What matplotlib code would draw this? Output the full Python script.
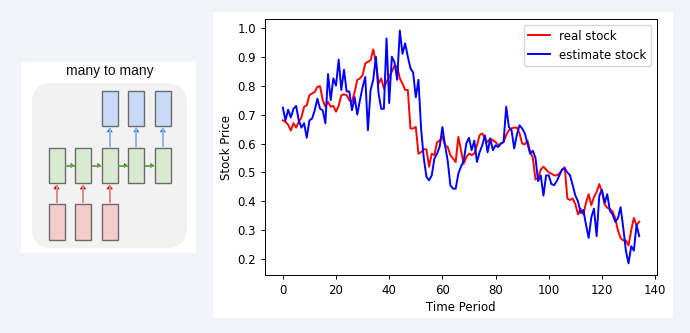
import numpy as np
import matplotlib
matplotlib.use("Agg")
import matplotlib.pyplot as plt
from matplotlib.patches import FancyBboxPatch, Rectangle, Polygon

# ---- series -------------------------------------------------------------
real_stock = [
    0.680, 0.675, 0.665, 0.645, 0.670, 0.655, 0.675, 0.690, 0.727, 0.732,
    0.767, 0.773, 0.778, 0.796, 0.798, 0.750, 0.727, 0.744, 0.727, 0.730,
    0.710, 0.730, 0.767, 0.770, 0.767, 0.750, 0.744, 0.778, 0.820, 0.825,
    0.836, 0.877, 0.882, 0.888, 0.925, 0.882, 0.807, 0.825, 0.790, 0.813,
    0.830, 0.848, 0.870, 0.865, 0.825, 0.807, 0.785, 0.785, 0.652, 0.652,
    0.657, 0.565, 0.570, 0.580, 0.580, 0.520, 0.565, 0.560, 0.605, 0.610,
    0.623, 0.594, 0.588, 0.560, 0.548, 0.536, 0.623, 0.577, 0.530, 0.553,
    0.565, 0.560, 0.565, 0.594, 0.629, 0.635, 0.617, 0.605, 0.617, 0.611,
    0.605, 0.594, 0.600, 0.605, 0.629, 0.646, 0.652, 0.655, 0.655, 0.635,
    0.600, 0.597, 0.610, 0.571, 0.550, 0.476, 0.482, 0.510, 0.520, 0.510,
    0.500, 0.496, 0.490, 0.490, 0.496, 0.510, 0.518, 0.410, 0.405, 0.410,
    0.390, 0.355, 0.375, 0.355, 0.395, 0.425, 0.387, 0.415, 0.433, 0.460,
    0.433, 0.390, 0.378, 0.374, 0.365, 0.342, 0.300, 0.274, 0.265, 0.265,
    0.248, 0.300, 0.343, 0.317, 0.330,
]

estimate_stock = [
    0.724, 0.680, 0.717, 0.690, 0.720, 0.730, 0.680, 0.655, 0.670, 0.620,
    0.680, 0.686, 0.715, 0.755, 0.720, 0.715, 0.670, 0.840, 0.750, 0.825,
    0.800, 0.890, 0.785, 0.855, 0.780, 0.780, 0.715, 0.760, 0.700, 0.750,
    0.795, 0.830, 0.646, 0.785, 0.820, 0.900, 0.773, 0.720, 0.720, 0.963,
    0.740, 0.900, 0.880, 0.820, 0.990, 0.910, 0.946, 0.900, 0.860, 0.845,
    0.760, 0.820, 0.650, 0.550, 0.485, 0.473, 0.490, 0.548, 0.565, 0.590,
    0.657, 0.594, 0.540, 0.456, 0.444, 0.444, 0.496, 0.520, 0.540, 0.600,
    0.620, 0.577, 0.610, 0.536, 0.570, 0.594, 0.628, 0.570, 0.617, 0.577,
    0.594, 0.588, 0.600, 0.605, 0.727, 0.657, 0.646, 0.583, 0.630, 0.663,
    0.652, 0.635, 0.600, 0.565, 0.575, 0.550, 0.470, 0.490, 0.420, 0.490,
    0.490, 0.460, 0.456, 0.470, 0.490, 0.510, 0.514, 0.500, 0.490, 0.456,
    0.420, 0.400, 0.360, 0.370, 0.320, 0.274, 0.345, 0.375, 0.280, 0.420,
    0.440, 0.395, 0.425, 0.367, 0.355, 0.330, 0.342, 0.380, 0.310, 0.230,
    0.186, 0.245, 0.230, 0.320, 0.280,
]

series_labels = ["real stock", "estimate stock"]
x_label = "Time Period"
y_label = "Stock Price"
diagram_title = "many to many"

# ---- figure -------------------------------------------------------------
W, H = 690, 333
fig = plt.figure(figsize=(W / 100, H / 100), dpi=100)
fig.patch.set_facecolor("#f1f3f8")

# pixel-space canvas for the panels and the RNN sketch
bg = fig.add_axes([0, 0, 1, 1], zorder=0)
bg.set_xlim(0, W)
bg.set_ylim(H, 0)
bg.axis("off")
bg.patch.set_alpha(0)

# white cards
bg.add_patch(Rectangle((21, 62), 175, 191, facecolor="white", edgecolor="none"))
bg.add_patch(Rectangle((213, 12), 460, 306, facecolor="white", edgecolor="none"))

# RNN "many to many" sketch
bg.text(110, 71, diagram_title, ha="center", va="center",
        fontsize=10, family="Liberation Sans", color="#111111")
bg.add_patch(FancyBboxPatch((32, 83), 155, 165,
                            boxstyle="round,pad=0,rounding_size=20",
                            facecolor="#f2f2f2", edgecolor="none"))

col_x = [48.5, 75.0, 101.7, 128.3, 154.8]
box_w = 16.0
edge = "#6b6b6b"


def cell(x, y, h, fc):
    bg.add_patch(Rectangle((x, y), box_w, h, facecolor=fc,
                           edgecolor=edge, linewidth=1.0))


def arrow(x0, y0, x1, y1, shaft, head, size=3.2):
    bg.plot([x0, x1], [y0, y1], color=shaft, lw=1.4, solid_capstyle="butt")
    dx, dy = x1 - x0, y1 - y0
    n = np.hypot(dx, dy)
    ux, uy = dx / n, dy / n
    px, py = -uy, ux
    tip = (x1, y1)
    base = (x1 - ux * size * 1.5, y1 - uy * size * 1.5)
    bg.add_patch(Polygon([tip,
                          (base[0] + px * size, base[1] + py * size),
                          (base[0] - px * size, base[1] - py * size)],
                         closed=True, facecolor=head, edgecolor="none"))


# inputs (first three columns)
for cx in col_x[:3]:
    cell(cx, 204, 36, "#f4cccc")
    arrow(cx + box_w / 2, 203, cx + box_w / 2, 184.5, "#e08a8a", "#cc0000")

# hidden states
for cx in col_x:
    cell(cx, 147.5, 35, "#d9ead3")
for a, b in zip(col_x[:-1], col_x[1:]):
    arrow(a + box_w + 0.5, 165.5, b - 0.5, 165.5, "#6aa84f", "#38761d", size=2.6)

# outputs (last three columns)
for cx in col_x[2:]:
    cell(cx, 91, 35, "#c9daf8")
    arrow(cx + box_w / 2, 146.5, cx + box_w / 2, 127.5, "#8fb3ec", "#3c78d8")

# ---- stock chart --------------------------------------------------------
ax = fig.add_axes([265 / W, 1 - 275 / H, 392 / W, 256 / H], zorder=1)
t = np.arange(len(real_stock))
ax.plot(t, real_stock, color="red", lw=1.4, label=series_labels[0])
ax.plot(t, estimate_stock, color="blue", lw=1.4, label=series_labels[1])

fs = 8.5
ax.set_xlabel(x_label, fontsize=fs, labelpad=3)
ax.set_ylabel(y_label, fontsize=fs, labelpad=3)
ax.tick_params(labelsize=fs, length=3, width=0.7)
ax.set_xticks(np.arange(0, 141, 20))
ax.set_yticks(np.round(np.arange(0.2, 1.01, 0.1), 1))
for s in ax.spines.values():
    s.set_linewidth(0.7)
ax.legend(loc="upper right", fontsize=fs, handlelength=1.8,
          borderaxespad=0.5, framealpha=0.8, edgecolor="#cccccc")

fig.savefig("out.png", dpi=100, facecolor=fig.get_facecolor())
